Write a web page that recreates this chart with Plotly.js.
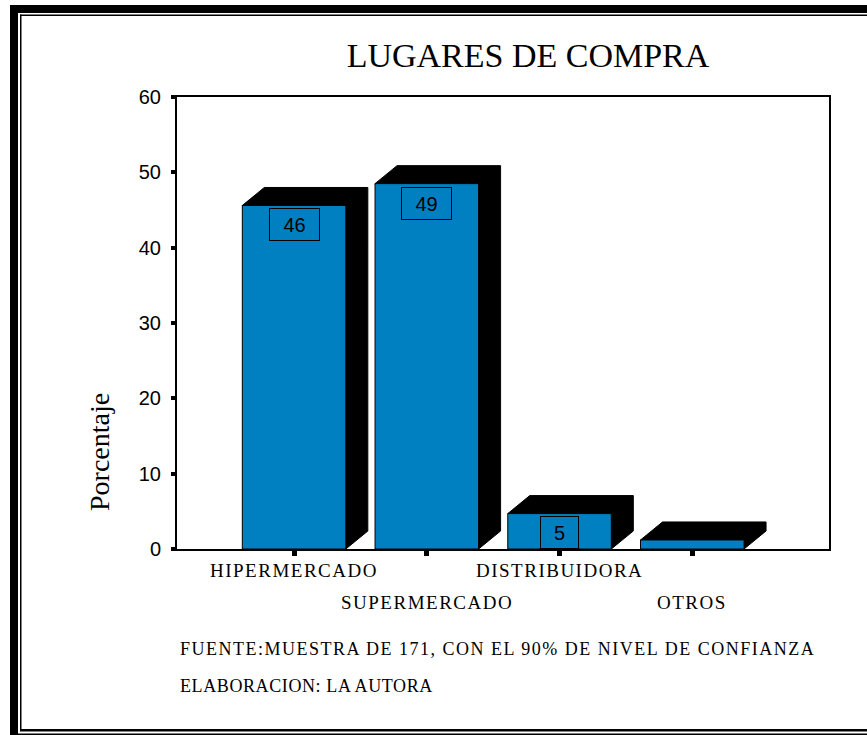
<!DOCTYPE html>
<html>
<head>
<meta charset="utf-8">
<script src="https://cdn.plot.ly/plotly-3.0.1.min.js"></script>
<style>
  html, body { margin: 0; padding: 0; background: #ffffff; }
  #chart { width: 867px; height: 735px; }
</style>
</head>
<body>
<div id="chart"></div>
<script>
// Chart data
const categories = ['HIPERMERCADO', 'SUPERMERCADO', 'DISTRIBUIDORA', 'OTROS'];
const percentages = [45.6, 48.5, 4.7, 1.2];
const yTickValues = [0, 10, 20, 30, 40, 50, 60];
const chartTitle = 'LUGARES DE COMPRA';
const yAxisTitle = 'Porcentaje';
const footnotes = [
  'FUENTE:MUESTRA DE 171, CON EL 90% DE NIVEL DE CONFIANZA',
  'ELABORACION: LA AUTORA'
];

// Page geometry
const W = 867, H = 735;
const M = { l: 177, r: 38, t: 97, b: 186 };
const plotW = W - M.l - M.r, plotH = H - M.t - M.b;
const xRange = [-0.882, 4.03];
const yRange = [0, 60];
const pxPerCat = plotW / (xRange[1] - xRange[0]);
const pxPerUnit = plotH / (yRange[1] - yRange[0]);
const barWidth = 0.78;
const depthX = 22 / pxPerCat;   // 3D depth, horizontal
const depthY = 18 / pxPerUnit;  // 3D depth, vertical

const BLUE = 'rgb(0,128,192)';
const SERIF = 'Liberation Serif, Times New Roman, serif';
const SANS = 'Liberation Sans, Arial, sans-serif';

// pixel -> paper helpers for decoration
const px = x => (x - M.l) / plotW;
const py = y => (H - M.b - y) / plotH;

const xPos = categories.map((_, i) => i);

// black top + side faces of each bar
const shapes = percentages.map((v, i) => {
  const xl = xPos[i] - barWidth / 2, xr = xPos[i] + barWidth / 2;
  return {
    type: 'path', xref: 'x', yref: 'y', layer: 'below',
    path: `M ${xl},${v} L ${xl + depthX},${v + depthY} L ${xr + depthX},${v + depthY} ` +
          `L ${xr + depthX},${depthY} L ${xr},0 Z`,
    fillcolor: '#000000', line: { color: '#000000', width: 1 }
  };
});

// page frame: thick outer band plus thin inner rule
function rect(x0, y0, x1, y1) {
  return { type: 'rect', xref: 'paper', yref: 'paper', layer: 'above',
    x0: px(x0), x1: px(x1), y0: py(y1), y1: py(y0),
    fillcolor: '#000000', line: { width: 0 } };
}
shapes.push(rect(10, 5, 18, 735));   // left thick
shapes.push(rect(10, 5, 867, 13));   // top thick
shapes.push(rect(20, 14.5, 21.5, 731)); // left thin
shapes.push(rect(20, 14.5, 867, 16));   // top thin
shapes.push(rect(20, 729, 867, 731.5)); // bottom inner
shapes.push(rect(10, 733.5, 867, 735)); // bottom outer

const annotations = [];

// value boxes on the bars
percentages.forEach((v, i) => {
  const txt = String(Math.round(v));
  const boxH = 33 / pxPerUnit;
  if (v < boxH) return;
  annotations.push({
    x: xPos[i], y: Math.max(v - 3 / pxPerUnit, boxH), xref: 'x', yref: 'y',
    xanchor: 'center', yanchor: 'top', showarrow: false,
    text: txt, font: { family: SANS, size: 20, color: '#000' },
    width: 12 * txt.length + 23, height: 29, borderpad: 1,
    bordercolor: '#000', borderwidth: 1
  });
});

// staggered category labels
categories.forEach((c, i) => {
  annotations.push({
    x: xPos[i], xref: 'x', yref: 'paper', y: py(i % 2 === 0 ? 570 : 602),
    xanchor: 'center', yanchor: 'middle', showarrow: false,
    text: `<span style="letter-spacing:1.5px">${c}</span>`,
    font: { family: SERIF, size: 19, color: '#000' }
  });
});

// y-axis title
annotations.push({
  x: px(99), y: py(452), xref: 'paper', yref: 'paper',
  xanchor: 'center', yanchor: 'middle', showarrow: false, textangle: -90,
  text: yAxisTitle, font: { family: SERIF, size: 28, color: '#000' }
});

// footnotes
const noteSpacing = [1.5, 0.6];
footnotes.forEach((t, k) => {
  annotations.push({
    x: px(178), y: py(k === 0 ? 649 : 686), xref: 'paper', yref: 'paper',
    xanchor: 'left', yanchor: 'middle', showarrow: false,
    text: `<span style="letter-spacing:${noteSpacing[k]}px">${t}</span>`,
    font: { family: SERIF, size: 18, color: '#000' }
  });
});

const trace = {
  type: 'bar', x: xPos, y: percentages, width: barWidth,
  marker: { color: BLUE, line: { color: '#000', width: 1 } },
  hoverinfo: 'skip'
};

const layout = {
  width: W, height: H, margin: M,
  paper_bgcolor: '#fff', plot_bgcolor: '#fff',
  showlegend: false,
  title: {
    text: chartTitle, x: px(528), xref: 'paper', xanchor: 'center',
    y: 1 - 55 / H, yref: 'container', yanchor: 'middle',
    font: { family: SERIF, size: 34, color: '#000' }
  },
  xaxis: {
    range: xRange, tickvals: xPos, showticklabels: false,
    ticks: 'outside', ticklen: 5, tickwidth: 5, tickcolor: '#000',
    showline: true, linewidth: 2, linecolor: '#000', mirror: true,
    showgrid: false, zeroline: false, fixedrange: true
  },
  yaxis: {
    range: yRange, tickvals: yTickValues,
    ticks: 'outside', ticklen: 4, tickwidth: 4, tickcolor: '#000',
    showline: true, linewidth: 2, linecolor: '#000', mirror: true,
    showgrid: false, zeroline: false, fixedrange: true,
    tickfont: { family: SANS, size: 20, color: '#000' },
    ticklabelstandoff: 6
  },
  shapes: shapes,
  annotations: annotations
};

Plotly.newPlot('chart', [trace], layout, { displayModeBar: false, staticPlot: true });
</script>
</body>
</html>
